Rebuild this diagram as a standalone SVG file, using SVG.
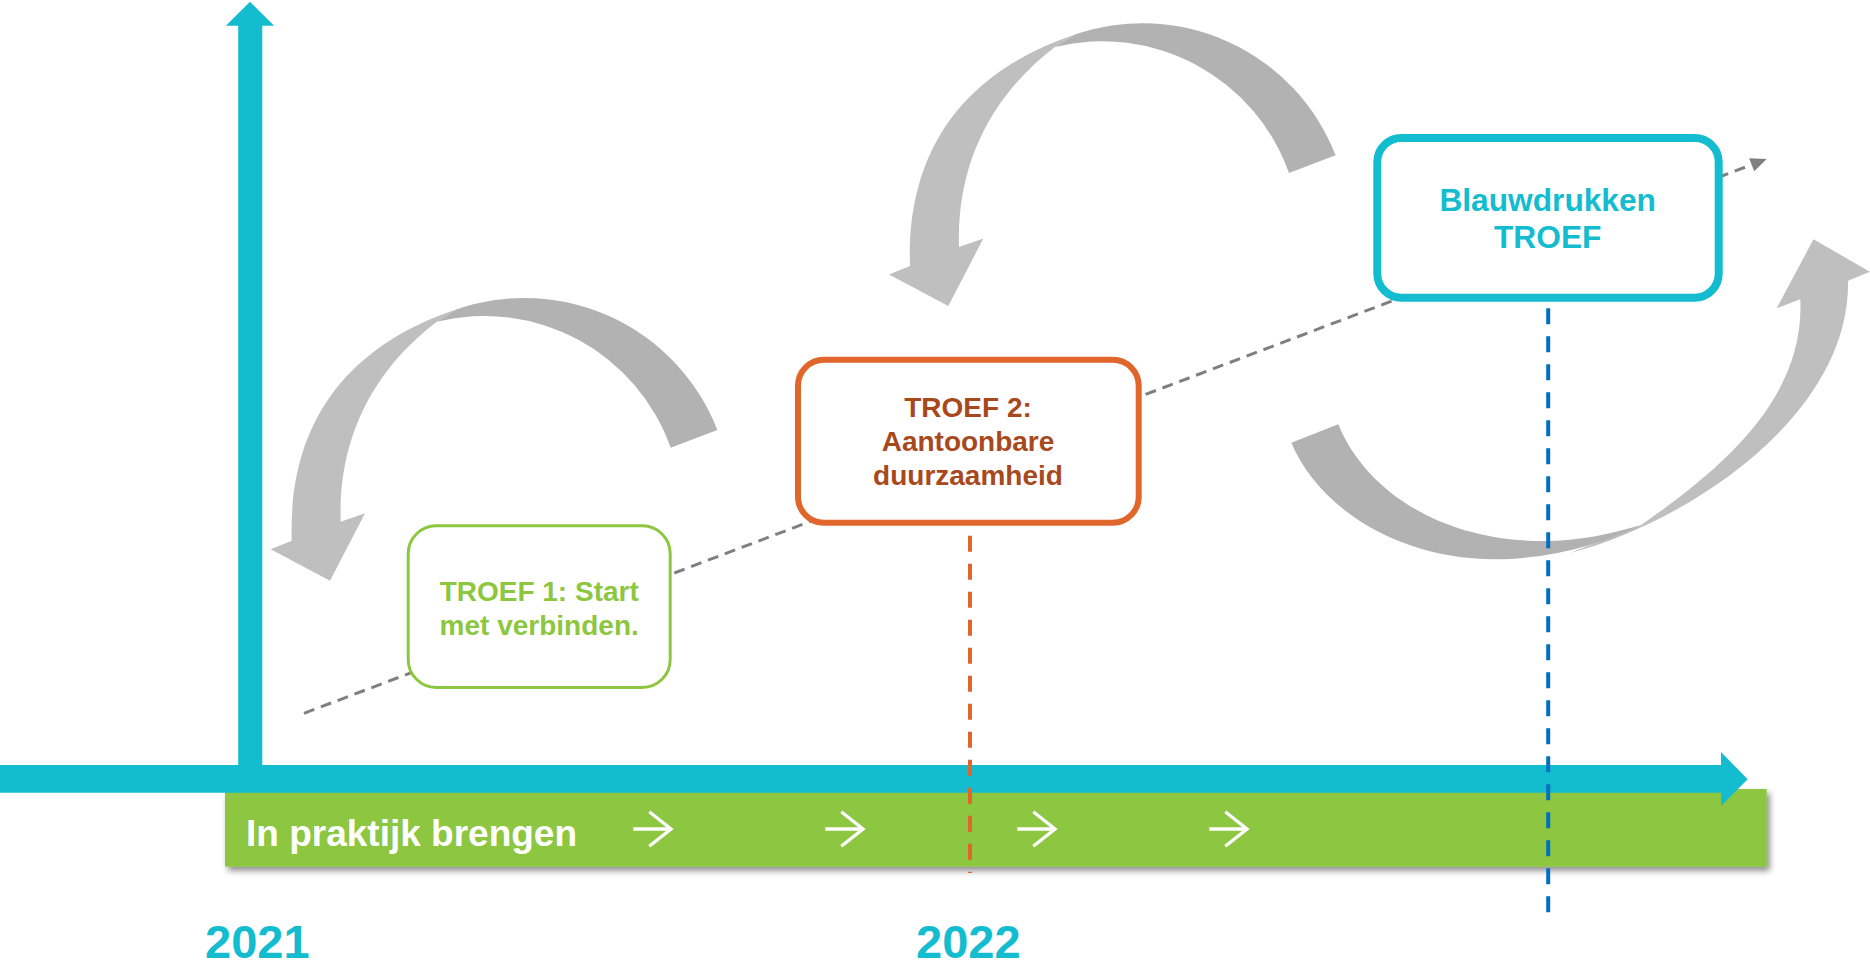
<svg xmlns="http://www.w3.org/2000/svg" xmlns:xlink="http://www.w3.org/1999/xlink" width="1870" height="965" viewBox="0 0 1870 965">
<style>
.dark{fill:#b2b2b2}
.light{fill:#bfbfbf}
.axis{fill:#14bccf}
.t{font-family:"Liberation Sans",Arial,sans-serif;font-weight:bold;text-anchor:middle}
.diag{stroke:#7f7f7f;stroke-width:3;stroke-dasharray:11 7;fill:none}
.vdash{stroke-width:4;stroke-dasharray:16 12;fill:none}
.warr{stroke:#ffffff;stroke-width:3.3;fill:none;stroke-linejoin:miter}
</style>
<defs>
<filter id="sh" x="-5%" y="-30%" width="110%" height="170%">
<feDropShadow dx="3" dy="4" stdDeviation="3" flood-color="#000" flood-opacity="0.45"/>
</filter>
<g id="curl">
<path class="light" d="M456.7,309.3 C350,345 288,420 291.7,540.7 L270.7,549.3 L330,580.7 L365,513.3 L340.7,521.7 C338,430 380,365 436.7,321.7 Z"/>
<path class="dark" d="M717.3,430 A207,207 0 0 0 456.7,309.3 L436.7,321.7 A198,198 0 0 1 670.7,447.7 Z"/>
</g>
</defs>
<rect width="1870" height="965" fill="#ffffff"/>

<g id="connectors">
<use xlink:href="#curl" href="#curl"/>
<use xlink:href="#curl" href="#curl" transform="translate(618.3,-274.7)"/>
<g id="curl3">
<path class="light" d="M1570,553 C1680,525 1850,420 1848.1,280.7 L1869.9,271.7 L1813.5,239.3 L1776.6,308.3 L1800.3,299.3 C1805,400 1720,470 1641.2,525 Z"/>
<path class="dark" d="M1291.3,442.7 C1320,510 1400,559 1494.4,559.3 C1550,559 1600,545 1641.2,525 C1610,534 1580,541 1543.4,541 C1440,541 1365,490 1338.3,424.3 Z"/>
</g>
<line class="diag" x1="304" y1="713.3" x2="1751.7" y2="164.7"/>
<polygon points="1766.7,159 1754.2,171.2 1749.2,158.2" fill="#7f7f7f"/>
</g>

<g id="troef1">
<rect x="408.2" y="525.8" width="262" height="161.7" rx="28" fill="#ffffff" stroke="#8dc63f" stroke-width="3"/>
<text class="t" x="539.2" y="601" font-size="28" fill="#8dc63f">TROEF 1: Start</text>
<text class="t" x="539.2" y="635" font-size="28" fill="#8dc63f">met verbinden.</text>
</g>

<g id="troef2">
<rect x="798" y="359.7" width="340.7" height="163" rx="26" fill="#ffffff" stroke="#e0662c" stroke-width="6"/>
<text class="t" x="968" y="417.3" font-size="28" fill="#a8491d">TROEF 2:</text>
<text class="t" x="968" y="451" font-size="28" fill="#a8491d">Aantoonbare</text>
<text class="t" x="968" y="485" font-size="28" fill="#a8491d">duurzaamheid</text>
</g>

<g id="blauwdrukken">
<rect x="1377.3" y="138" width="341.4" height="159.7" rx="24" fill="#ffffff" stroke="#14bccf" stroke-width="8"/>
<text class="t" x="1547.7" y="210.7" font-size="31.7" fill="#14bccf">Blauwdrukken</text>
<text class="t" x="1547.7" y="248.3" font-size="31.7" fill="#14bccf">TROEF</text>
</g>

<g id="praktijk">
<rect x="225" y="789" width="1541.7" height="77.7" fill="#8dc63f" filter="url(#sh)"/>
<text x="246" y="846" font-family="Liberation Sans, Arial, sans-serif" font-weight="bold" font-size="37" fill="#ffffff">In praktijk brengen</text>
<path class="warr" d="M633.3,829 H670 M649.3,811.7 L671,829 L649.3,846.3"/>
<path class="warr" d="M825.3,829 H862 M841.3,811.7 L863,829 L841.3,846.3"/>
<path class="warr" d="M1017.3,829 H1054 M1033.3,811.7 L1055,829 L1033.3,846.3"/>
<path class="warr" d="M1209.3,829 H1246 M1225.3,811.7 L1247,829 L1225.3,846.3"/>
</g>

<g id="axes">
<polygon class="axis" points="238.2,780 238.2,25.7 225.9,25.7 250,1.7 274.1,25.7 262.3,25.7 262.3,780"/>
<polygon class="axis" points="0,765 1721,765 1721,752 1747.7,779.3 1721,806 1721,792.7 0,792.7"/>
</g>

<g id="markers">
<line class="vdash" x1="970" y1="535.7" x2="970" y2="873" stroke="#e0662c"/>
<line class="vdash" x1="1548.2" y1="308.3" x2="1548.2" y2="912.7" stroke="#0070c0"/>
</g>

<g id="years">
<text x="205" y="957.7" font-family="Liberation Sans, Arial, sans-serif" font-weight="bold" font-size="47" fill="#14bccf">2021</text>
<text x="916" y="957.7" font-family="Liberation Sans, Arial, sans-serif" font-weight="bold" font-size="47" fill="#14bccf">2022</text>
</g>
</svg>
